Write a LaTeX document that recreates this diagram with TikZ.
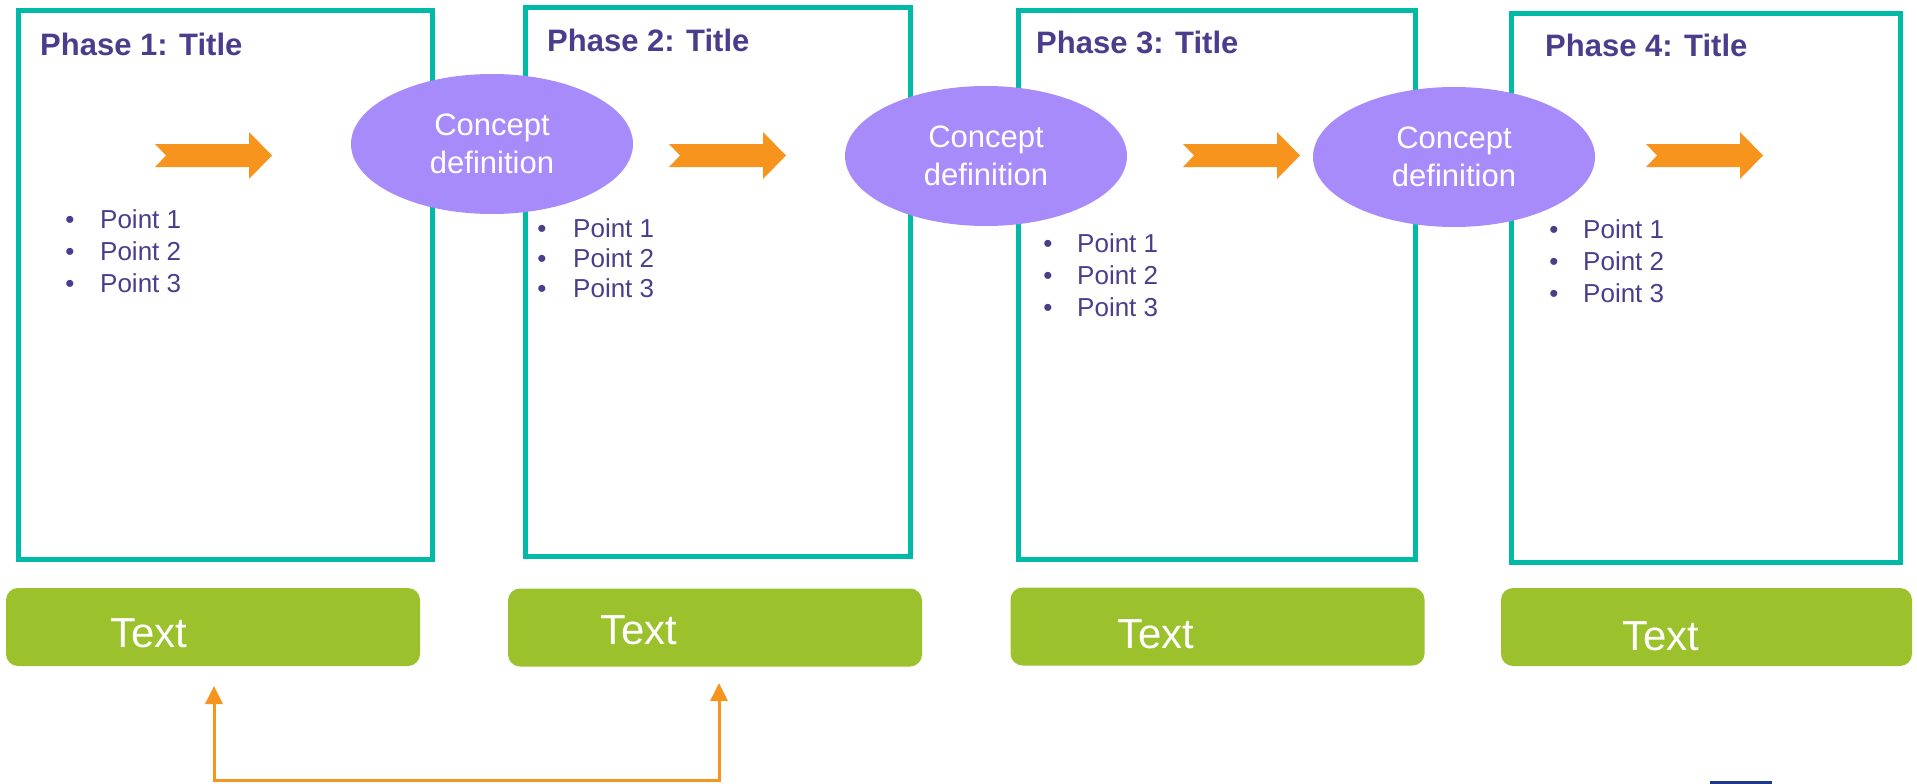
\documentclass[tikz,border=0pt]{standalone}
\usepackage{fontspec}
\setmainfont{Liberation Sans}
\usetikzlibrary{shapes.geometric,arrows.meta}
\definecolor{tealc}{RGB}{0,185,167}
\definecolor{greenc}{RGB}{155,193,44}
\definecolor{lavc}{RGB}{167,139,250}
\definecolor{orangec}{RGB}{247,148,30}
\definecolor{titlec}{RGB}{76,61,140}
\definecolor{navyc}{RGB}{31,56,140}
\newcommand{\orangearrow}[1]{%
  \fill[orangec] (#1,144) -- (#1+94,144) -- (#1+94,132) -- (#1+117,155.5) -- (#1+94,179) -- (#1+94,167) -- (#1,167) -- (#1+11,155.5) -- cycle;}
\tikzset{
  phasebox/.style={draw=tealc, line width=5pt, minimum height=548pt, inner sep=0pt, rectangle},
  textbox/.style={fill=greenc, rounded corners=12pt, minimum width=414pt, minimum height=78pt, inner sep=0pt},
  concept/.style={ellipse, fill=lavc, minimum width=282pt, minimum height=140pt, inner sep=0pt},
  concepttext/.style={text=white, align=center, font=\fontsize{31}{38}\selectfont},
  phasetitle/.style={anchor=base west, inner sep=0pt, text=titlec, font=\fontsize{31}{38}\selectfont\bfseries},
  bulletdot/.style={anchor=base, inner sep=0pt, text=titlec, font=\fontsize{26}{32}\selectfont},
  pointtext/.style={anchor=base west, inner sep=0pt, text=titlec, font=\fontsize{26}{32}\selectfont},
  greentext/.style={anchor=base west, inner sep=0pt, text=white, font=\fontsize{42}{48}\selectfont},
  conn/.style={draw=orangec, line width=3pt},
}
\begin{document}
\begin{tikzpicture}[x=1pt,y=-1pt]
\useasboundingbox (0,0) rectangle (1917,784);
% phase boxes
\node[phasebox, minimum width=414pt] (p1) at (225,285) {};
\node[phasebox, minimum width=385pt] (p2) at (717.5,282) {};
\node[phasebox, minimum width=397pt] (p3) at (1216.5,285) {};
\node[phasebox, minimum width=389pt] (p4) at (1705.5,288) {};
% titles
\node[phasetitle] (t1) at (40,56) {Phase 1: Title};
\node[phasetitle] (t2) at (547,52) {Phase 2: Title};
\node[phasetitle] (t3) at (1036,54) {Phase 3: Title};
\node[phasetitle] (t4) at (1545,57) {Phase 4: Title};
% arrows
\orangearrow{155}
\orangearrow{669}
\orangearrow{1183}
\orangearrow{1646}
% bullets phase 1
\node[bulletdot] (b11) at (70,228) {•};
\node[bulletdot] (b12) at (70,260) {•};
\node[bulletdot] (b13) at (70,292) {•};
\node[pointtext] (q11) at (100,228) {Point 1};
\node[pointtext] (q12) at (100,260) {Point 2};
\node[pointtext] (q13) at (100,292) {Point 3};
% bullets phase 2
\node[bulletdot] (b21) at (542,237) {•};
\node[bulletdot] (b22) at (542,267) {•};
\node[bulletdot] (b23) at (542,297) {•};
\node[pointtext] (q21) at (573,237) {Point 1};
\node[pointtext] (q22) at (573,267) {Point 2};
\node[pointtext] (q23) at (573,297) {Point 3};
% bullets phase 3
\node[bulletdot] (b31) at (1048,252) {•};
\node[bulletdot] (b32) at (1048,284) {•};
\node[bulletdot] (b33) at (1048,316) {•};
\node[pointtext] (q31) at (1077,252) {Point 1};
\node[pointtext] (q32) at (1077,284) {Point 2};
\node[pointtext] (q33) at (1077,316) {Point 3};
% bullets phase 4
\node[bulletdot] (b41) at (1554,238) {•};
\node[bulletdot] (b42) at (1554,270) {•};
\node[bulletdot] (b43) at (1554,302) {•};
\node[pointtext] (q41) at (1583,238) {Point 1};
\node[pointtext] (q42) at (1583,270) {Point 2};
\node[pointtext] (q43) at (1583,302) {Point 3};
% concept ellipses
\node[concept] (e1) at (492,144) {};
\node[concept] (e2) at (986,156) {};
\node[concept] (e3) at (1454,157) {};
\node[concepttext] (c1) at (e1) {Concept\\definition};
\node[concepttext] (c2) at (e2) {Concept\\definition};
\node[concepttext] (c3) at (e3) {Concept\\definition};
% green text boxes
\node[textbox] (g1) at (213,627) {};
\node[textbox] (g2) at (715,627.5) {};
\node[textbox] (g3) at (1217.5,626.5) {};
\node[textbox, minimum width=411pt] (g4) at (1706.5,627) {};
\node[greentext] (x1) at (110,647) {Text};
\node[greentext] (x2) at (600,644) {Text};
\node[greentext] (x3) at (1117,648) {Text};
\node[greentext] (x4) at (1622,650) {Text};
% bottom connector
\coordinate (la) at (214,686);
\coordinate (ra) at (719,683);
\coordinate (mid) at (466,780);
\draw[conn, {Triangle[width=17pt,length=18pt]}-{Triangle[width=17pt,length=18pt]}] (la) |- (mid) -| (ra);
% partial mark at bottom edge
\fill[navyc] (1710,781) rectangle (1772,784);
\end{tikzpicture}
\end{document}
